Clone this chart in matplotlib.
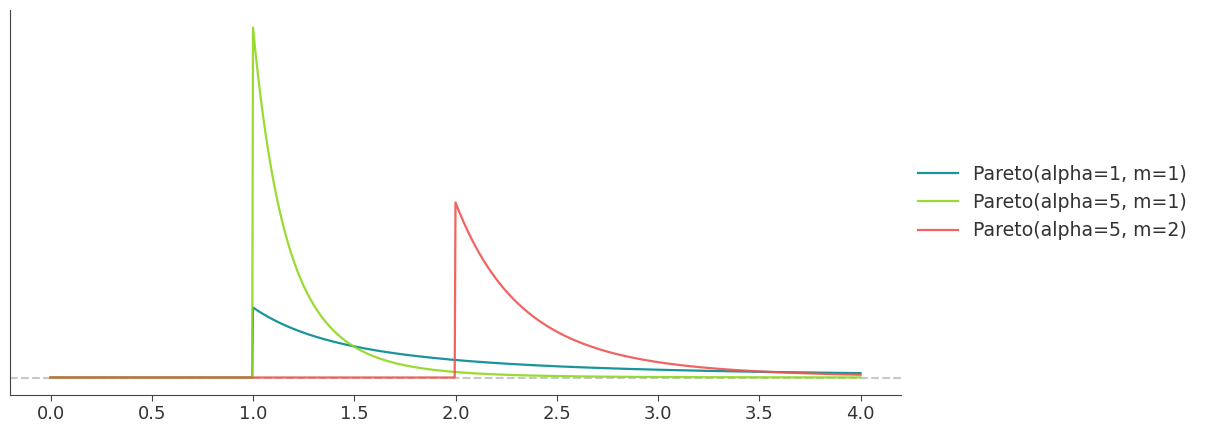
import numpy as np
import matplotlib
matplotlib.use("Agg")
import matplotlib.pyplot as plt

# Distribution parameters
labels = ["Pareto(alpha=1, m=1)", "Pareto(alpha=5, m=1)", "Pareto(alpha=5, m=2)"]
alphas = [1, 5, 5]
ms = [1, 1, 2]
colors = ["#00898f", "#8ed81c", "#ef5350"]
x_ticks = [0.0, 0.5, 1.0, 1.5, 2.0, 2.5, 3.0, 3.5, 4.0]

x = np.linspace(0, 4, 1001)

fig = plt.figure(figsize=(12.05, 4.34), dpi=100)
ax = fig.add_axes([10 / 1205, 39 / 434, 891 / 1205, 385 / 434])

for a, m, c, lab in zip(alphas, ms, colors, labels):
    y = np.where(x >= m - 1e-9, a * m**a / np.maximum(x, 1e-12) ** (a + 1), 0.0)
    ax.plot(x, y, color=c, lw=1.6, label=lab, alpha=0.9)

ax.axhline(0, color="#c8c8c8", ls="--", lw=1.5, zorder=0)
ax.set_xlim(-0.2, 4.2)
ax.set_ylim(-0.25, 5.25)
ax.set_xticks(x_ticks)
ax.set_xticklabels([f"{t:.1f}" for t in x_ticks])
ax.set_yticks([])
for s in ["top", "right"]:
    ax.spines[s].set_visible(False)
for s in ["left", "bottom"]:
    ax.spines[s].set_color("#444444")
ax.tick_params(axis="x", labelsize=13, colors="#444444", labelcolor="#333333", length=4)

ax.legend(loc="center left", bbox_to_anchor=(1.0, 0.5), frameon=False, fontsize=13.6,
          handlelength=2.1, labelcolor="#333333")

fig.savefig("out.png", dpi=100)
